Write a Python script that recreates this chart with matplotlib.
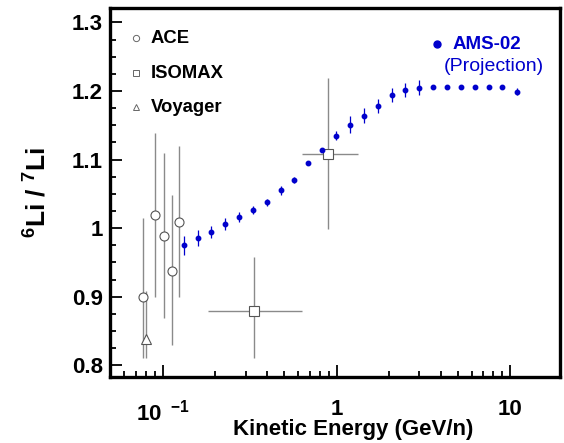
import matplotlib
matplotlib.use("Agg")
import matplotlib.pyplot as plt
from matplotlib.ticker import FixedLocator, LogLocator, NullFormatter, MultipleLocator
import numpy as np

# ---------------- data ----------------
ams_E = [0.132, 0.1585, 0.190, 0.2286, 0.2754, 0.330, 0.396, 0.477, 0.571, 0.688,
         0.828, 0.997, 1.196, 1.435, 1.728, 2.080, 2.492, 3.000, 3.613, 4.335,
         5.220, 6.259, 7.539, 9.028, 10.93]
ams_R = [0.975, 0.986, 0.994, 1.006, 1.016, 1.026, 1.038, 1.055, 1.070, 1.095,
         1.114, 1.135, 1.151, 1.164, 1.178, 1.194, 1.201, 1.205, 1.206, 1.206,
         1.206, 1.206, 1.206, 1.206, 1.199]
ams_err = [0.014, 0.012, 0.009, 0.009, 0.007, 0.006, 0.005, 0.006, 0.004, 0.003,
           0.003, 0.006, 0.012, 0.011, 0.010, 0.010, 0.010, 0.011, 0.003, 0.003,
           0.003, 0.003, 0.003, 0.003, 0.005]

ace_E = [0.0767, 0.0899, 0.101, 0.1127, 0.1232]
ace_R = [0.900, 1.019, 0.989, 0.938, 1.009]
ace_err_lo = [0.089, 0.120, 0.120, 0.108, 0.110]
ace_err_hi = [0.115, 0.120, 0.120, 0.111, 0.111]

isomax_E = [0.3357, 0.893]
isomax_R = [0.879, 1.1085]
isomax_E_lo = [0.181, 0.630]
isomax_E_hi = [0.630, 1.335]
isomax_err_lo = [0.068, 0.109]
isomax_err_hi = [0.079, 0.111]

voy_E = [0.0798]
voy_R = [0.838]
voy_err_lo = [0.027]
voy_err_hi = [0.070]

xtick_vals = [0.1, 1, 10]
xtick_labels = [r'10$^{\ \ \mathbf{-1}}$', '1', '10']
ytick_vals = [0.8, 0.9, 1.0, 1.1, 1.2, 1.3]
ytick_labels = ['0.8', '0.9', '1', '1.1', '1.2', '1.3']

# ---------------- style ----------------
plt.rcParams['font.family'] = ['Liberation Sans', 'DejaVu Sans']
plt.rcParams['mathtext.fontset'] = 'custom'
plt.rcParams['mathtext.rm'] = 'Liberation Sans:bold'
plt.rcParams['mathtext.bf'] = 'Liberation Sans:bold'
plt.rcParams['mathtext.it'] = 'Liberation Sans:bold'
plt.rcParams['mathtext.default'] = 'bf'

blue = '#0000cc'
gray_line = '#8a8a8a'
gray_edge = '#555555'

fig = plt.figure(figsize=(5.64, 4.43), dpi=100)
ax = fig.add_axes([110/564, 1 - 377/443, 450/564, 369/443])

# AMS-02 projection
ax.errorbar(ams_E, ams_R, yerr=ams_err, fmt='o', color=blue, ms=3.2,
            elinewidth=0.9, capsize=0, mec=blue, zorder=4)

# ACE
ax.errorbar(ace_E, ace_R, yerr=[ace_err_lo, ace_err_hi], fmt='o', ms=6.5,
            mfc='white', mec=gray_edge, mew=0.8, ecolor=gray_line,
            elinewidth=1.0, capsize=0, zorder=3)
# Voyager
ax.errorbar(voy_E, voy_R, yerr=[voy_err_lo, voy_err_hi], fmt='^', ms=6.5,
            mfc='white', mec=gray_edge, mew=0.8, ecolor=gray_line,
            elinewidth=1.0, capsize=0, zorder=3)
# ISOMAX
iso_xerr = [np.array(isomax_E) - np.array(isomax_E_lo),
            np.array(isomax_E_hi) - np.array(isomax_E)]
ax.errorbar(isomax_E, isomax_R, xerr=iso_xerr, yerr=[isomax_err_lo, isomax_err_hi],
            fmt='s', ms=7, mfc='white', mec=gray_edge, mew=0.8, ecolor=gray_line,
            elinewidth=1.0, capsize=0, zorder=3)

ax.set_xscale('log')
ax.set_xlim(0.0495, 19.4)
ax.set_ylim(0.783, 1.321)

ax.xaxis.set_major_locator(FixedLocator(xtick_vals))
ax.set_xticklabels(xtick_labels)
ax.xaxis.set_minor_locator(LogLocator(base=10, subs=np.arange(2, 10)))
ax.xaxis.set_minor_formatter(NullFormatter())
ax.yaxis.set_major_locator(FixedLocator(ytick_vals))
ax.set_yticklabels(ytick_labels)
ax.yaxis.set_minor_locator(MultipleLocator(0.025))

ax.tick_params(which='both', direction='in', top=False, right=False,
               width=1.3, labelsize=16)
ax.tick_params(which='major', length=8.5)
ax.tick_params(which='minor', length=4.5)
ax.tick_params(axis='x', pad=16)
ax.tick_params(axis='y', pad=5)
for lab in ax.get_xticklabels() + ax.get_yticklabels():
    lab.set_fontweight('bold')

for sp in ax.spines.values():
    sp.set_linewidth(2.4)

ax.set_xlabel('Kinetic Energy (GeV/n)', fontsize=16, fontweight='bold', va='center')
ax.xaxis.set_label_coords(0.54, -0.142)
ax.set_ylabel(r'$^{6}$Li / $^{7}$Li', fontsize=19, fontweight='bold', va='center')
ax.yaxis.set_label_coords(-0.16, 0.5)

# in-plot legend
leg_items = [('o', 'ACE', 0.918), ('s', 'ISOMAX', 0.823), ('^', 'Voyager', 0.731)]
for mk, name, yy in leg_items:
    ax.plot([0.058], [yy], marker=mk, ms=4.5, mfc='white', mec='#666666', mew=0.7,
            transform=ax.transAxes, clip_on=False)
    ax.text(0.0904, yy, name, transform=ax.transAxes, fontsize=13.3,
            fontweight='bold', va='center', ha='left')

ax.plot([0.726], [0.902], marker='o', ms=5, color=blue, transform=ax.transAxes)
ax.text(0.761, 0.902, 'AMS-02', transform=ax.transAxes, fontsize=13.5,
        fontweight='bold', color=blue, va='center', ha='left')
ax.text(0.742, 0.841, '(Projection)', transform=ax.transAxes, fontsize=14,
        color=blue, va='center', ha='left')

fig.savefig('out.png', dpi=100)
